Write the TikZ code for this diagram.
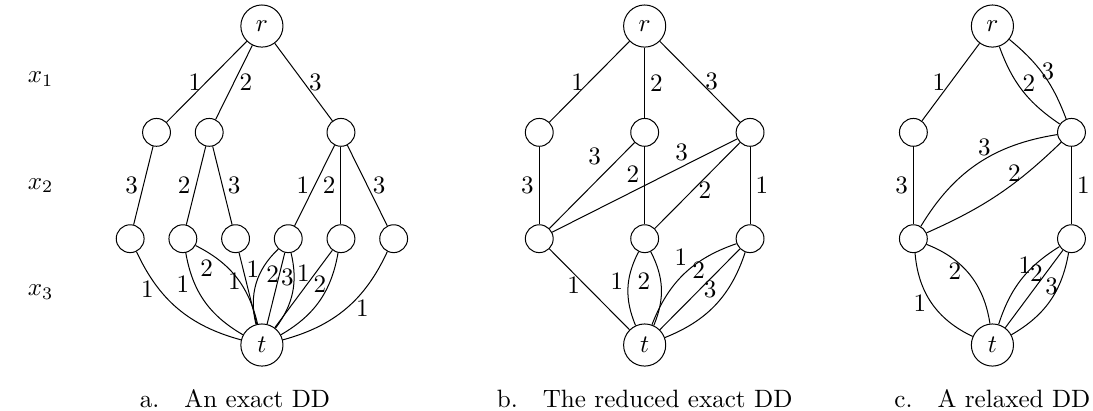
\documentclass[tikz,border=0pt]{standalone}
\usepackage{amsmath,amssymb}
\usepackage{tikz}

\begin{document}
\begin{tikzpicture}[x=0.738cm,y=1.489cm,
  term/.style={circle,draw,minimum size=0.59cm,inner sep=0pt},
  dnode/.style={circle,draw,minimum size=0.39cm,inner sep=0pt},
  lab/.style={inner sep=2pt}]
\useasboundingbox (-4.97,-0.62) rectangle (15.77,3.245);
% layer labels
\node (x1) at (-4.2,2.5) {$x_1$};
\node (x2) at (-4.2,1.5) {$x_2$};
\node (x3) at (-4.2,0.5) {$x_3$};

% a. exact DD
\node[term] (ra) at (0,3) {$r$};
\node[dnode] (a21) at (-2,2) {};
\node[dnode] (a22) at (-1,2) {};
\node[dnode] (a23) at (1.5,2) {};
\foreach \i/\xx in {1/-2.5,2/-1.5,3/-0.5,4/0.5,5/1.5,6/2.5}
  \node[dnode] (a3\i) at (\xx,1) {};
\node[term] (ta) at (0,0) {$t$};
\draw (ra) -- node[lab,left] {1} (a21);
\draw (ra) -- node[lab,right] {2} (a22);
\draw (ra) -- node[lab,right] {3} (a23);
\draw (a21) -- node[lab,left] {3} (a31);
\draw (a22) -- node[lab,left] {2} (a32);
\draw (a22) -- node[lab,right] {3} (a33);
\draw (a23) -- node[lab,left] {1} (a34);
\draw (a23) -- node[lab,left] {2} (a35);
\draw (a23) -- node[lab,right] {3} (a36);
\draw (a31) to[bend right=25] node[lab,pos=.3,left] {1} (ta);
\draw (a32) to[bend right=25] node[lab,pos=.3,left] {1} (ta);
\draw (a32) to[bend left=25] node[lab,pos=.38,left,inner sep=6pt] {2} (ta);
\draw (a33) -- node[lab,pos=.4,left] {1} (ta);
\draw (a34) to[bend right=30] node[lab,pos=.3,left,inner sep=1pt] {1} (ta);
\draw (a34) -- node[lab,pos=.3,left,inner sep=0pt] {2} (ta);
\draw (a34) to[bend left=25] node[lab,pos=.3,left,inner sep=0pt] {3} (ta);
\draw (a35) -- node[lab,pos=.3,left] {1} (ta);
\draw (a35) to[bend left=25] node[lab,pos=.3,left,inner sep=1pt] {2} (ta);
\draw (a36) to[bend left=25] node[lab,pos=.4,below right,inner sep=0pt] {1} (ta);
\node[anchor=base] (capa) at (-0.51,-0.583) {a.\quad An exact DD};

% b. reduced exact DD
\begin{scope}[xshift=5.36cm]
\node[term] (rb) at (0,3) {$r$};
\foreach \i/\xx in {1/-2,2/0,3/2}{
  \node[dnode] (b2\i) at (\xx,2) {};
  \node[dnode] (b3\i) at (\xx,1) {};}
\node[term] (tb) at (0,0) {$t$};
\draw (rb) -- node[lab,left] {1} (b21);
\draw (rb) -- node[lab,right] {2} (b22);
\draw (rb) -- node[lab,right] {3} (b23);
\draw (b21) -- node[lab,left] {3} (b31);
\draw (b22) -- node[lab,pos=.33,above left] {3} (b31);
\draw (b22) -- node[lab,pos=.35,left] {2} (b32);
\draw (b23) -- node[lab,pos=.3,above] {3} (b31);
\draw (b23) -- node[lab,pos=.55,right] {2} (b32);
\draw (b23) -- node[lab,right] {1} (b33);
\draw (b31) -- node[lab,pos=.45,left] {1} (tb);
\draw (b32) to[bend right=25] node[lab,pos=.4,left] {1} (tb);
\draw (b32) to[bend left=25] node[lab,pos=.4,left,inner sep=4pt] {2} (tb);
\draw (b33) to[bend right=25] node[lab,pos=.43,above left,inner sep=1pt] {1} (tb);
\draw (b33) -- node[lab,pos=.4,above left,inner sep=1pt] {2} (tb);
\draw (b33) to[bend left=25] node[lab,pos=.45,above left,inner sep=1pt] {3} (tb);
\node[anchor=base] (capb) at (0,-0.583) {b.\quad The reduced exact DD};
\end{scope}

% c. relaxed DD
\begin{scope}[xshift=10.23cm]
\node[term] (rc) at (0,3) {$r$};
\foreach \i/\xx in {1/-1.5,2/1.5}{
  \node[dnode] (c2\i) at (\xx,2) {};
  \node[dnode] (c3\i) at (\xx,1) {};}
\node[term] (tc) at (0,0) {$t$};
\draw (rc) -- node[lab,left] {1} (c21);
\draw (rc) to[bend right=18] node[lab,pos=.4,right] {2} (c22);
\draw (rc) to[bend left=15] node[lab,pos=.45,right,inner sep=0pt] {3} (c22);
\draw (c21) -- node[lab,left] {3} (c31);
\draw (c22) to[bend right=25] node[lab,pos=.45,above,inner sep=1pt] {3} (c31);
\draw (c22) to[bend left=10] node[lab,pos=.37,above,inner sep=0.5pt] {2} (c31);
\draw (c22) -- node[lab,right] {1} (c32);
\draw (c31) to[bend right=30] node[lab,pos=.5,left] {1} (tc);
\draw (c31) to[bend left=30] node[lab,pos=.45,left] {2} (tc);
\draw (c32) to[bend right=20] node[lab,pos=.3,left,inner sep=1pt] {1} (tc);
\draw (c32) -- node[lab,pos=.3,left,inner sep=1pt] {2} (tc);
\draw (c32) to[bend left=25] node[lab,pos=.33,left,inner sep=0pt] {3} (tc);
\node[anchor=base] (capc) at (0,-0.583) {c.\quad A relaxed DD};
\end{scope}
\end{tikzpicture}
\end{document}
